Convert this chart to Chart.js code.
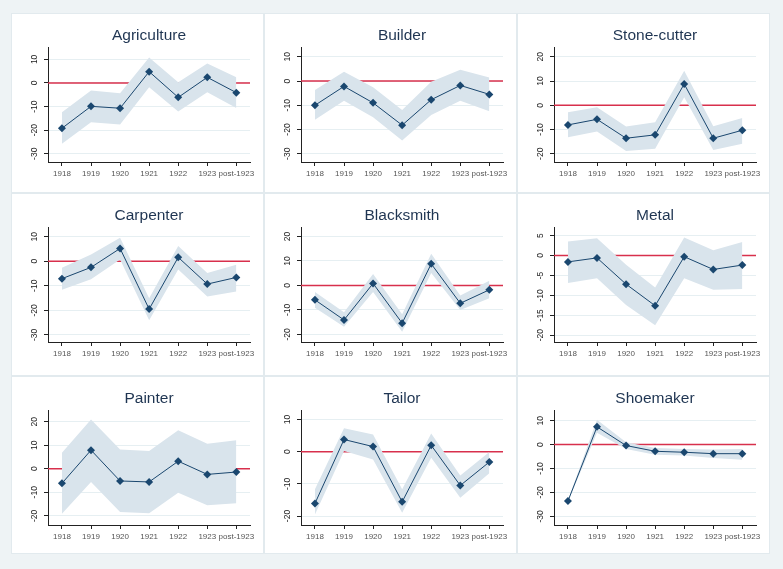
<!DOCTYPE html>
<html>
<head>
<meta charset="utf-8">
<script src="https://cdn.jsdelivr.net/npm/chart.js@4"></script>
<style>
  html, body { margin: 0; padding: 0; }
  body { width: 783px; height: 569px; background: #eef3f5; position: relative; overflow: hidden; }
  #grid {
    position: absolute; left: 11px; top: 13px;
    display: grid;
    grid-template-columns: 251px 251px 251px;
    grid-template-rows: 178px 181px 176px;
    gap: 2px;
    background: #e2eaee;
    border: 1px solid #e2eaee;
  }
  .cell { background: #fff; position: relative; }
  .cell canvas { position: absolute; left: 0; top: 0; }
</style>
</head>
<body>
<div id="grid"></div>
<script>
var years = ['1918', '1919', '1920', '1921', '1922', '1923', 'post-1923']
var panelTitles = ['Agriculture', 'Builder', 'Stone-cutter', 'Carpenter', 'Blacksmith', 'Metal', 'Painter', 'Tailor', 'Shoemaker']

// point estimates, upper and lower bounds of the band
var agriculture   = [-19.2, -9.9, -10.7, 4.8, -6.1, 2.4, -4.1]
var agricultureHi = [-12.4, -3.2, -4.4, 10.8, 0.3, 8.3, 2.4]
var agricultureLo = [-25.8, -16.6, -17.6, -1.8, -12.1, -3.9, -10.6]

var builder   = [-10.0, -2.2, -9.0, -18.2, -7.7, -1.8, -5.5]
var builderHi = [-3.7, 3.8, -2.6, -11.9, -0.3, 4.7, 1.5]
var builderLo = [-16.0, -8.1, -14.9, -24.5, -14.0, -8.1, -12.5]

var stoneCutter   = [-8.1, -5.8, -13.6, -12.2, 8.8, -13.6, -10.3]
var stoneCutterHi = [-2.9, -0.8, -8.8, -7.0, 14.2, -8.6, -5.2]
var stoneCutterLo = [-13.2, -10.8, -18.9, -17.9, 3.3, -18.4, -15.9]

var carpenter   = [-7.1, -2.5, 5.2, -19.5, 1.6, -9.3, -6.6]
var carpenterHi = [-2.7, 2.7, 9.6, -15.1, 6.2, -4.8, -1.4]
var carpenterLo = [-11.6, -7.3, 0.7, -24.0, -3.4, -14.4, -12.3]

var blacksmith   = [-5.9, -14.1, 0.8, -15.4, 8.8, -7.3, -1.8]
var blacksmithHi = [-2.7, -11.0, 4.7, -11.8, 12.9, -4.1, 1.9]
var blacksmithLo = [-9.1, -16.9, -2.7, -18.9, 5.1, -10.0, -5.2]

var metal   = [-1.6, -0.6, -7.2, -12.6, -0.3, -3.5, -2.4]
var metalHi = [3.5, 4.3, -2.3, -8.0, 4.5, 1.3, 3.4]
var metalLo = [-6.9, -5.7, -12.4, -17.5, -5.7, -8.6, -8.4]

var painter   = [-6.2, 7.9, -5.2, -5.6, 3.2, -2.4, -1.4]
var painterHi = [6.8, 20.9, 8.2, 7.5, 16.4, 10.6, 12.1]
var painterLo = [-19.1, -5.6, -18.4, -18.9, -10.2, -15.5, -14.7]

var tailor   = [-16.1, 3.8, 1.6, -15.6, 2.0, -10.5, -3.2]
var tailorHi = [-11.7, 7.3, 5.4, -11.7, 5.7, -7.4, -0.1]
var tailorLo = [-19.5, 0.2, -2.4, -19.0, -1.9, -14.3, -6.7]

var shoemaker   = [-23.6, 7.4, -0.4, -2.8, -3.2, -3.8, -3.8]
var shoemakerHi = [-23.3, 10.4, 1.0, -1.4, -1.8, -2.1, -1.8]
var shoemakerLo = [-23.9, 4.9, -1.8, -4.2, -4.6, -5.6, -6.3]

// y tick labels and axis ranges per panel
var ticksWide  = [-30, -20, -10, 0, 10]
var ticksEven  = [-20, -10, 0, 10, 20]
var ticksMetal = [-20, -15, -10, -5, 0, 5]
var ticksTailor = [-20, -10, 0, 10]
var yRanges = [[-33.5, 15], [-33.4, 13.8], [-23.4, 23.8], [-32.9, 13.7], [-23.1, 23.6], [-21.7, 7.0], [-23.9, 24.7], [-22.8, 12.8], [-33.6, 14.2]]

var X_MIN = -0.48
var X_MAX = 6.47
var FONT = '"Liberation Sans", Arial, sans-serif'
var NAVY = '#1a476f'
var BAND = '#d9e4ec'
var RED = '#d8304c'
var AXIS = '#222'
var GRID = '#e6eff2'

var panels = [
  [agriculture, agricultureHi, agricultureLo, ticksWide],
  [builder, builderHi, builderLo, ticksWide],
  [stoneCutter, stoneCutterHi, stoneCutterLo, ticksEven],
  [carpenter, carpenterHi, carpenterLo, ticksWide],
  [blacksmith, blacksmithHi, blacksmithLo, ticksEven],
  [metal, metalHi, metalLo, ticksMetal],
  [painter, painterHi, painterLo, ticksEven],
  [tailor, tailorHi, tailorLo, ticksTailor],
  [shoemaker, shoemakerHi, shoemakerLo, ticksWide]
]

function toPoints(arr) {
  return arr.map(function (v, i) { return {x: i, y: v} })
}

function makeChart(canvas, title, est, hi, lo, yTicks, range) {
  return new Chart(canvas, {
    type: 'line',
    data: {
      datasets: [
        {data: toPoints(est), order: 0, borderColor: NAVY, borderWidth: 1,
         pointStyle: 'rectRot', pointRadius: 4, pointBackgroundColor: NAVY, pointBorderWidth: 0},
        {data: toPoints(hi), order: 1, borderColor: 'rgba(0,0,0,0)', borderWidth: 0, pointRadius: 0,
         fill: '+1', backgroundColor: BAND},
        {data: toPoints(lo), order: 2, borderColor: 'rgba(0,0,0,0)', borderWidth: 0, pointRadius: 0},
        // zero reference line across the whole plot
        {data: [{x: X_MIN, y: 0}, {x: X_MAX, y: 0}], order: 3, borderColor: RED, borderWidth: 1.5, pointRadius: 0}
      ]
    },
    options: {
      responsive: false,
      animation: false,
      events: [],
      layout: {padding: {left: 10, right: 13, top: 0, bottom: 8}},
      plugins: {
        legend: {display: false},
        tooltip: {enabled: false},
        title: {
          display: true, text: title, fullSize: false, color: '#1f3552',
          font: {family: FONT, size: 15.5, weight: 'normal'},
          padding: {top: 12, bottom: 3}
        }
      },
      scales: {
        x: {
          type: 'linear', min: X_MIN, max: X_MAX,
          afterBuildTicks: function (s) { s.ticks = years.map(function (y, i) { return {value: i} }) },
          afterFit: function (s) { s.height = 20 },
          ticks: {
            autoSkip: false, maxRotation: 0, padding: 3, color: '#555',
            font: {family: FONT, size: 8},
            callback: function (v) { return years[v] }
          },
          grid: {drawOnChartArea: false, tickLength: 4, tickColor: AXIS},
          border: {color: AXIS, width: 1}
        },
        y: {
          min: range[0], max: range[1],
          afterBuildTicks: function (s) { s.ticks = yTicks.map(function (t) { return {value: t} }) },
          afterFit: function (s) { s.width = 26 },
          ticks: {
            minRotation: 90, maxRotation: 90, crossAlign: 'center', padding: 3, color: '#222',
            font: {family: FONT, size: 8.5},
            callback: function (v) { return String(v) }
          },
          grid: {color: GRID, lineWidth: 1, tickLength: 4, tickColor: AXIS},
          border: {color: AXIS, width: 1}
        }
      }
    }
  })
}

var grid = document.getElementById('grid')
panels.forEach(function (p, i) {
  var cell = document.createElement('div')
  cell.className = 'cell'
  var canvas = document.createElement('canvas')
  canvas.width = 251
  canvas.height = 176
  cell.appendChild(canvas)
  grid.appendChild(cell)
  makeChart(canvas, panelTitles[i], p[0], p[1], p[2], p[3], yRanges[i])
})
</script>
</body>
</html>
